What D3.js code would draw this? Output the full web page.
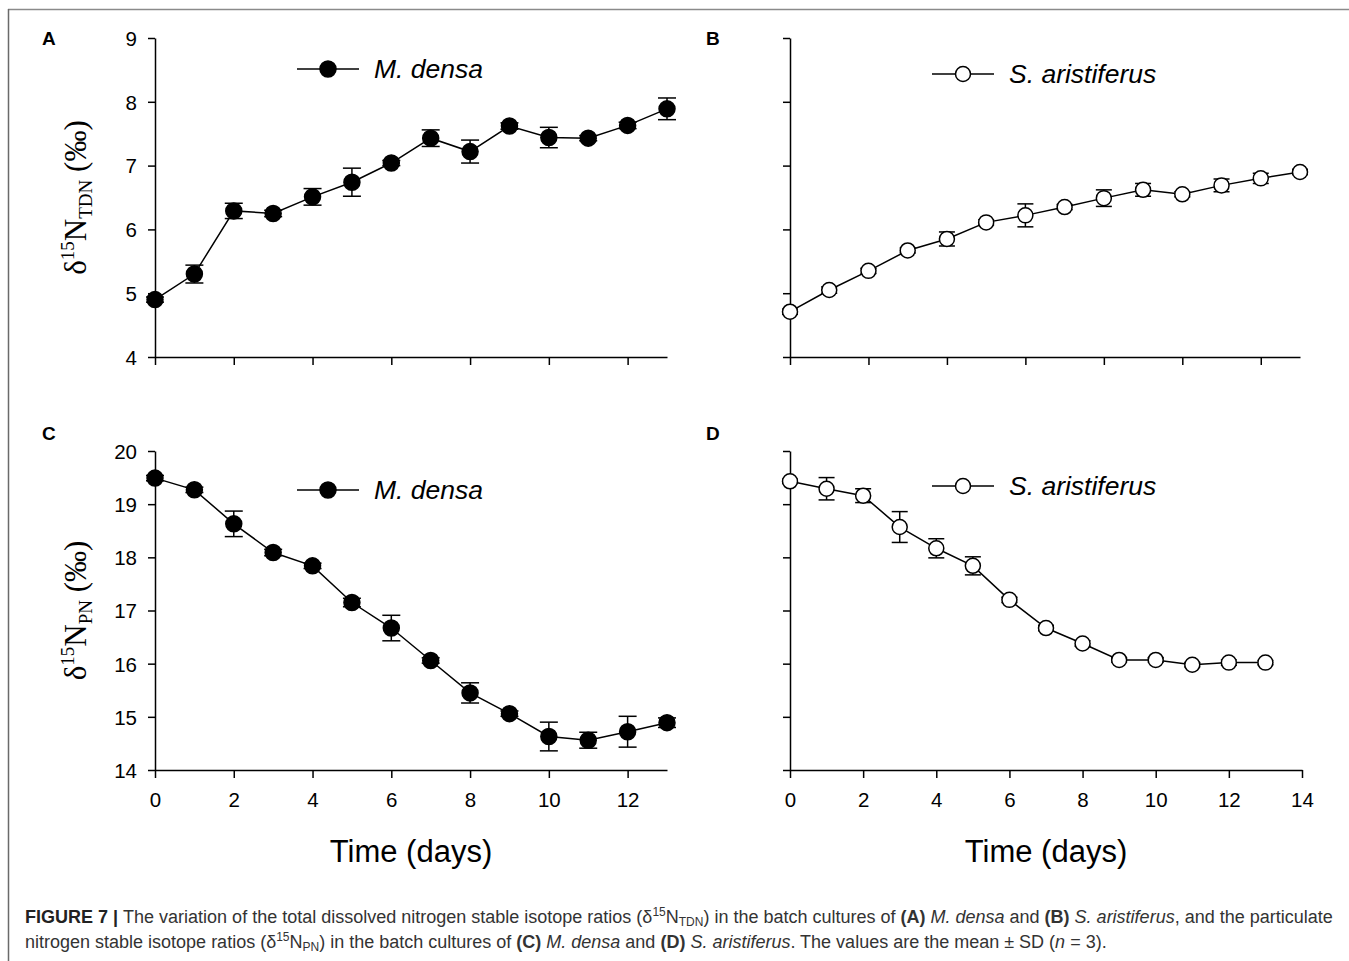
<!DOCTYPE html>
<html>
<head>
<meta charset="utf-8">
<script src="https://cdn.jsdelivr.net/npm/d3@7"></script>
<style>
  html, body { margin: 0; padding: 0; background: #fff; }
  svg { display: block; }
</style>
</head>
<body>
<svg id="chart" width="1349" height="961"></svg>
<script>
// ---- Data ----
const days = [0, 1, 2, 3, 4, 5, 6, 7, 8, 9, 10, 11, 12, 13];

// Panel A: delta15N TDN, M. densa
const tdnMdensa   = [4.90, 5.30, 6.29, 6.25, 6.51, 6.74, 7.04, 7.43, 7.22, 7.62, 7.44, 7.43, 7.63, 7.89];
const tdnMdensaSD = [0.04, 0.14, 0.12, 0.05, 0.13, 0.22, 0.04, 0.13, 0.18, 0.05, 0.16, 0.04, 0.05, 0.17];

// Panel B: delta15N TDN, S. aristiferus
const tdnSaris   = [4.71, 5.05, 5.35, 5.67, 5.85, 6.11, 6.22, 6.35, 6.49, 6.62, 6.55, 6.69, 6.80, 6.90];
const tdnSarisSD = [0.04, 0.05, 0.04, 0.04, 0.11, 0.04, 0.18, 0.04, 0.13, 0.10, 0.04, 0.10, 0.08, 0.04];

// Panel C: delta15N PN, M. densa
const pnMdensa   = [19.49, 19.27, 18.63, 18.09, 17.84, 17.15, 16.67, 16.06, 15.45, 15.06, 14.63, 14.56, 14.72, 14.89];
const pnMdensaSD = [0.05, 0.05, 0.24, 0.06, 0.05, 0.08, 0.24, 0.05, 0.19, 0.05, 0.27, 0.15, 0.29, 0.09];

// Panel D: delta15N PN, S. aristiferus
const pnSaris   = [19.43, 19.29, 19.16, 18.57, 18.17, 17.84, 17.20, 16.67, 16.38, 16.07, 16.07, 15.98, 16.02, 16.02];
const pnSarisSD = [0.04, 0.21, 0.13, 0.29, 0.18, 0.17, 0.05, 0.05, 0.05, 0.04, 0.04, 0.04, 0.05, 0.04];

// Tick values
const tdnTicks = [4, 5, 6, 7, 8, 9];
const pnTicks  = [14, 15, 16, 17, 18, 19, 20];
const xTicks13 = [0, 2, 4, 6, 8, 10, 12];
const xTicks14 = [0, 2, 4, 6, 8, 10, 12, 14];

const panelLetters = ["A", "B", "C", "D"];
const speciesNames = ["M. densa", "S. aristiferus"];

// ---- Layout ----
const svg = d3.select("#chart");
const FONT = "'Liberation Sans', Arial, Helvetica, sans-serif";
const SERIF = "'Liberation Serif', 'Times New Roman', serif";

// frame
svg.append("line").attr("x1", 8).attr("x2", 1349).attr("y1", 9.5).attr("y2", 9.5)
  .attr("stroke", "#8a8a8a").attr("stroke-width", 1.5);
svg.append("line").attr("x1", 8.5).attr("x2", 8.5).attr("y1", 9).attr("y2", 961)
  .attr("stroke", "#6a6a6a").attr("stroke-width", 1.5);

const panels = [
  { letter: panelLetters[0], vals: tdnMdensa, sd: tdnMdensaSD, filled: true,  name: speciesNames[0],
    x0: 155, x1: 667, xmax: 13, xt: xTicks13, xlab: false, y0: 38, y1: 357, yd: [4, 9], yt: tdnTicks, ylab: true,
    legY: 69, legX: 297, title: "TDN", lx: 42, ly: 38 },
  { letter: panelLetters[1], vals: tdnSaris, sd: tdnSarisSD, filled: false, name: speciesNames[1],
    x0: 790, x1: 1300, xmax: 13, xt: xTicks13, xlab: false, y0: 38, y1: 357, yd: [4, 9], yt: tdnTicks, ylab: false,
    legY: 74, legX: 932, lx: 706, ly: 38 },
  { letter: panelLetters[2], vals: pnMdensa, sd: pnMdensaSD, filled: true,  name: speciesNames[0],
    x0: 155, x1: 667, xmax: 13, xt: xTicks13, xlab: true, y0: 451, y1: 770, yd: [14, 20], yt: pnTicks, ylab: true,
    legY: 490, legX: 297, title: "PN", lx: 42, ly: 433 },
  { letter: panelLetters[3], vals: pnSaris, sd: pnSarisSD, filled: false, name: speciesNames[1],
    x0: 790, x1: 1302, xmax: 14, xt: xTicks14, xlab: true, y0: 451, y1: 770, yd: [14, 20], yt: pnTicks, ylab: false,
    legY: 486, legX: 932, lx: 706, ly: 433 }
];

panels.forEach(p => {
  const x = d3.scaleLinear().domain([0, p.xmax]).range([p.x0, p.x1]);
  const y = d3.scaleLinear().domain(p.yd).range([p.y1, p.y0]);
  const g = svg.append("g");

  // axes
  const xAxis = d3.axisBottom(x).tickValues(p.xt).tickSize(8).tickSizeOuter(0).tickPadding(14)
    .tickFormat(p.xlab ? d3.format("d") : "");
  const gx = g.append("g").attr("transform", `translate(0,${p.y1})`).call(xAxis);
  const yAxis = d3.axisLeft(y).tickValues(p.yt).tickSize(7).tickSizeOuter(0).tickPadding(11)
    .tickFormat(p.ylab ? d3.format("d") : "");
  const gy = g.append("g").attr("transform", `translate(${p.x0},0)`).call(yAxis);
  [gx, gy].forEach(a => {
    a.selectAll("path,line").attr("stroke", "#000").attr("stroke-width", 1.5);
    a.selectAll("text").attr("font-family", FONT).attr("font-size", 20.5).attr("fill", "#000");
  });
  gy.selectAll("text").attr("dy", "0.36em");

  // connecting line
  const line = d3.line().x((d, i) => x(days[i])).y(d => y(d));
  g.append("path").datum(p.vals).attr("d", line)
    .attr("fill", "none").attr("stroke", "#000").attr("stroke-width", 1.5);

  // error bars
  const cap = p.filled ? 9 : 8;
  const eb = g.append("g").attr("stroke", "#000").attr("stroke-width", 1.5);
  p.vals.forEach((v, i) => {
    const cx = x(days[i]);
    const yt = y(v + p.sd[i]), yb = y(v - p.sd[i]);
    eb.append("line").attr("x1", cx).attr("x2", cx).attr("y1", yt).attr("y2", yb);
    eb.append("line").attr("x1", cx - cap).attr("x2", cx + cap).attr("y1", yt).attr("y2", yt);
    eb.append("line").attr("x1", cx - cap).attr("x2", cx + cap).attr("y1", yb).attr("y2", yb);
  });

  // markers
  g.selectAll("circle.pt").data(p.vals).enter().append("circle")
    .attr("cx", (d, i) => x(days[i])).attr("cy", d => y(d))
    .attr("r", p.filled ? 8 : 7.5)
    .attr("fill", p.filled ? "#000" : "#fff")
    .attr("stroke", "#000").attr("stroke-width", 1.5);

  // legend
  const lg = svg.append("g");
  lg.append("line").attr("x1", p.legX).attr("x2", p.legX + 62).attr("y1", p.legY).attr("y2", p.legY)
    .attr("stroke", "#000").attr("stroke-width", 1.5);
  lg.append("circle").attr("cx", p.legX + 31).attr("cy", p.legY).attr("r", p.filled ? 8 : 7.5)
    .attr("fill", p.filled ? "#000" : "#fff").attr("stroke", "#000").attr("stroke-width", 1.5);
  lg.append("text").attr("x", p.legX + 77).attr("y", p.legY + 9)
    .attr("font-family", FONT).attr("font-size", 26.5).attr("font-style", "italic").attr("fill", "#000")
    .text(p.name);

  // panel letter
  svg.append("text").attr("x", p.lx).attr("y", p.ly).attr("dy", "0.36em")
    .attr("font-family", FONT).attr("font-weight", "bold").attr("font-size", 19).attr("fill", "#000")
    .text(p.letter);

  // x-axis title
  if (p.xlab) {
    svg.append("text").attr("x", (p.x0 + p.x1) / 2).attr("y", 862)
      .attr("text-anchor", "middle").attr("font-family", FONT).attr("font-size", 31).attr("fill", "#000")
      .text("Time (days)");
  }

  // y-axis title
  if (p.ylab) {
    const cy = (p.y0 + p.y1) / 2;
    const t = svg.append("text").attr("transform", `translate(86,${cy}) rotate(-90)`)
      .attr("text-anchor", "middle").attr("font-family", SERIF).attr("font-size", 31).attr("fill", "#000");
    t.append("tspan").text("δ");
    t.append("tspan").attr("font-size", 19).attr("dy", -12).text("15");
    t.append("tspan").attr("dy", 12).text("N");
    t.append("tspan").attr("font-size", 19).attr("dy", 6).text(p.title);
    t.append("tspan").attr("dy", -6).text(" (‰)");
  }
});

// ---- Caption ----
const cap = svg.append("g").attr("font-family", FONT).attr("font-size", 18).attr("fill", "#333");
const l1 = cap.append("text").attr("x", 25).attr("y", 923);
l1.append("tspan").attr("font-weight", "bold").attr("fill", "#222").text("FIGURE 7 | ");
l1.append("tspan").text("The variation of the total dissolved nitrogen stable isotope ratios (δ");
l1.append("tspan").attr("font-size", 12).attr("dy", -7).text("15");
l1.append("tspan").attr("dy", 7).text("N");
l1.append("tspan").attr("font-size", 12).attr("dy", 3).text("TDN");
l1.append("tspan").attr("dy", -3).text(") in the batch cultures of ");
l1.append("tspan").attr("font-weight", "bold").text("(A)");
l1.append("tspan").attr("font-style", "italic").text(" M. densa");
l1.append("tspan").text(" and ");
l1.append("tspan").attr("font-weight", "bold").text("(B)");
l1.append("tspan").attr("font-style", "italic").text(" S. aristiferus");
l1.append("tspan").text(", and the particulate");

const l2 = cap.append("text").attr("x", 25).attr("y", 948);
l2.append("tspan").text("nitrogen stable isotope ratios (δ");
l2.append("tspan").attr("font-size", 12).attr("dy", -7).text("15");
l2.append("tspan").attr("dy", 7).text("N");
l2.append("tspan").attr("font-size", 12).attr("dy", 3).text("PN");
l2.append("tspan").attr("dy", -3).text(") in the batch cultures of ");
l2.append("tspan").attr("font-weight", "bold").text("(C)");
l2.append("tspan").attr("font-style", "italic").text(" M. densa");
l2.append("tspan").text(" and ");
l2.append("tspan").attr("font-weight", "bold").text("(D)");
l2.append("tspan").attr("font-style", "italic").text(" S. aristiferus");
l2.append("tspan").text(". The values are the mean ± SD (");
l2.append("tspan").attr("font-style", "italic").text("n");
l2.append("tspan").text(" = 3).");
</script>
</body>
</html>
